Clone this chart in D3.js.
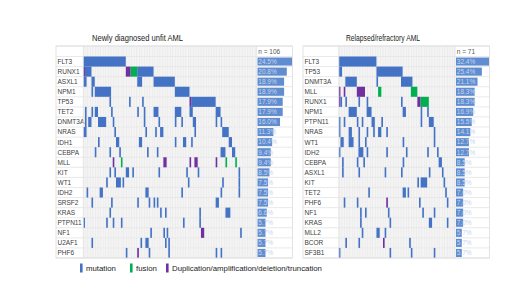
<!DOCTYPE html>
<html>
<head>
<meta charset="utf-8">
<script src="https://cdn.jsdelivr.net/npm/d3@7"></script>
<style>
  body { margin: 0; background: #fff; }
  svg { display: block; }
  text { font-family: "Liberation Sans", Arial, sans-serif; }
</style>
</head>
<body>
<svg width="520" height="292"></svg>
<script>
"use strict";

// newly diagnosed unfit AML (n = 106)
const newlyN = 106;
const newlyGenes = ["FLT3", "RUNX1", "ASXL1", "NPM1", "TP53", "TET2", "DNMT3A", "NRAS", "IDH1", "CEBPA",
  "MLL", "KIT", "WT1", "IDH2", "SRSF2", "KRAS", "PTPN11", "NF1", "U2AF1", "PHF6"];
const newlyPct = [24.5, 20.8, 18.9, 18.9, 17.9, 17.9, 16.0, 11.3, 10.4, 9.4,
  9.4, 8.5, 7.5, 7.5, 7.5, 6.6, 5.7, 5.7, 5.7, 5.7];
// m = mutation, f = fusion, d = duplication/amplification/deletion/truncation ; column ranges
const newlyMarks = [
  "m0-25",
  "d0 m1-4 d26-28 f29-32 m33-42",
  "m0-1 m5-6 m33-35 m43-55",
  "m5 m7-16 m56-64",
  "m16 m28 m36 d65 m66-80",
  "m1 m5 m7-8 m17 m33 m37 m43-45 m56-59 m65-66 m81-83",
  "m1 m3-4 m9-13 m18 m37 m46 m56 m60 m67-68 m81 m84",
  "m0-1 m19 m38 m44 m47-48 m68 m85-88",
  "m9 m20-21 m34-35 m56 m61-62 m66 m89-90",
  "m7 m16 m22 m39 m45 m84-86 m91-92",
  "d18 f23 d49-50 d65 d68-69 d81 f87 f93",
  "m16 m19 m26-27 m30 m46 m63 m70 m95",
  "m14 m20-22 m24 m64 m85 m95",
  "m2 m10-11 m38-39 m60 m84 m95",
  "m5 m17 m33 m40 m43 m45 m81-82",
  "m16 m47 m50 m71 m87-89",
  "m0 m14 m18 m23 m61 m71",
  "m41 m49 m51 d72-73 m96",
  "m5 m35 m38-39 m50 m52",
  "m26 d33 m40 m52 m81 m84"
];

// relapsed/refractory AML (n = 71)
const relapsedN = 71;
const relapsedGenes = ["FLT3", "TP53", "DNMT3A", "MLL", "RUNX1", "NPM1", "PTPN11", "NRAS", "WT1", "IDH2",
  "CEBPA", "ASXL1", "KIT", "TET2", "PHF6", "NF1", "KRAS", "MLL2", "BCOR", "SF3B1"];
const relapsedPct = [32.4, 25.4, 21.1, 18.3, 18.3, 16.9, 15.5, 14.1, 12.7, 12.7,
  8.5, 8.5, 8.5, 7.0, 7.0, 7.0, 7.0, 5.7, 5.7, 5.7];
const relapsedMarks = [
  "m0-22",
  "m0-1 m23-38",
  "m4-10 m23 m38-44",
  "d0 d3 d11-15 f24-25 f44-47",
  "d0 m1 m4 m12 m17 m38 d48-49 f50-54",
  "m6-10 m17-19 m39-40 m50 m54",
  "m0 m3 m11 m14 m20-21 m26 m50 m55-57",
  "m0 m6-7 m12 m17 m21 m24-25 m29 m58",
  "m1-2 m6-8 m12 m16 m39 m58",
  "m0 m12-14 m17 m29 m41 m54 m60",
  "m2 m11 m15 m39 m61-62",
  "m2 m12 m28 m38 m55 m63",
  "m48 m50-53 m64",
  "m18 m39-40 m42 m65",
  "m3 m11 d29 m49 m66",
  "m13 m16 m30 m51 m58",
  "m13 m31 m55-56 m66",
  "m14 m23-24 m28",
  "m4 m12 d27 m43",
  "m0 m31 m44 m58"
];

const legendKeys = ["m", "f", "d"];
const legendLabels = ["mutation", "fusion", "Duplication/amplification/deletion/truncation"];
const typeColor = d3.scaleOrdinal().domain(legendKeys).range(["#4472c4", "#00b050", "#7030a0"]);

// "m0-25" -> {type, start, end}
function parseMarks(s) {
  return s.split(" ").map((tok) => {
    const [a, b] = tok.slice(1).split("-").map(Number);
    return { type: tok[0], start: a, end: b === undefined ? a : b };
  });
}

const svg = d3.select("svg");
const headTop = 46, rowTop = 56.5, rowBottom = 258;

const panels = [
  { title: "Newly diagnosed unfit AML", n: newlyN, genes: newlyGenes, pct: newlyPct, marks: newlyMarks,
    left: 56, gridL: 83.3, gridR: 256.5, right: 292.5, titleX: 137.5, titleW: 91 },
  { title: "Relapsed/refractory AML", n: relapsedN, genes: relapsedGenes, pct: relapsedPct, marks: relapsedMarks,
    left: 303, gridL: 338.8, gridR: 455, right: 489.5, titleX: 383, titleW: 74 }
];

panels.forEach((p) => {
  const g = svg.append("g");
  const y = d3.scaleBand().domain(p.genes).range([rowTop, rowBottom]);
  const x = d3.scaleLinear().domain([0, p.n]).range([p.gridL, p.gridR]);
  const colW = x(1) - x(0);
  const bar = d3.scaleLinear().domain([0, d3.max(p.pct)]).range([0, p.right - p.gridR - 1.5]);

  g.append("text")
    .attr("x", p.titleX).attr("y", 41)
    .attr("text-anchor", "middle")
    .attr("font-size", 8.8)
    .attr("fill", "#222")
    .attr("textLength", p.titleW)
    .attr("lengthAdjust", "spacingAndGlyphs")
    .text(p.title);

  // grid cells (header row + gene rows)
  const rowsY = [headTop].concat(p.genes.map((d) => y(d)));
  const cells = [];
  rowsY.forEach((ry, i) => {
    const h = i === 0 ? rowTop - headTop : y.bandwidth();
    d3.range(p.n).forEach((c) => cells.push({ ry, h, c }));
  });
  g.append("g").selectAll("rect").data(cells).join("rect")
    .attr("x", (d) => x(d.c))
    .attr("y", (d) => d.ry)
    .attr("width", colW)
    .attr("height", (d) => d.h)
    .attr("fill", "#ededed")
    .attr("stroke", "#fafafa")
    .attr("stroke-width", 0.35);

  // row separators
  g.append("g").selectAll("line").data(rowsY.concat([rowBottom])).join("line")
    .attr("x1", p.left).attr("x2", p.right)
    .attr("y1", (d) => d).attr("y2", (d) => d)
    .attr("stroke", "#e3e3e3")
    .attr("stroke-width", 0.8);

  // mutation marks
  const runs = [];
  p.marks.forEach((s, i) => parseMarks(s).forEach((r) => runs.push({ gene: p.genes[i], ...r })));
  g.append("g").selectAll("rect").data(runs).join("rect")
    .attr("x", (d) => x(d.start))
    .attr("y", (d) => y(d.gene))
    .attr("width", (d) => x(d.end + 1) - x(d.start))
    .attr("height", y.bandwidth())
    .attr("fill", (d) => typeColor(d.type));

  // gene labels
  g.append("g").selectAll("text").data(p.genes).join("text")
    .attr("x", p.left + 1.5)
    .attr("y", (d) => y(d) + y.bandwidth() / 2 + 2.4)
    .attr("font-size", 6.5)
    .attr("fill", "#404040")
    .text((d) => d);

  // percentage bars
  g.append("g").selectAll("rect").data(p.pct).join("rect")
    .attr("x", p.gridR + 1)
    .attr("y", (d, i) => y(p.genes[i]) + 1)
    .attr("width", (d) => bar(d))
    .attr("height", y.bandwidth() - 2)
    .attr("fill", "#5f8dd0");

  g.append("g").selectAll("text").data(p.pct).join("text")
    .attr("x", p.gridR + 1.8)
    .attr("y", (d, i) => y(p.genes[i]) + y.bandwidth() / 2 + 2.3)
    .attr("font-size", 6.5)
    .attr("fill", "#c6d5ee")
    .text((d) => d3.format(".1f")(d) + "%");

  g.append("text")
    .attr("x", p.gridR + 1.8)
    .attr("y", headTop + 7.5)
    .attr("font-size", 6.5)
    .attr("fill", "#555")
    .text("n = " + p.n);

  // column dividers and outer frame
  [p.gridL, p.gridR].forEach((vx) => {
    g.append("line").attr("x1", vx).attr("x2", vx).attr("y1", headTop).attr("y2", rowBottom)
      .attr("stroke", "#e3e3e3").attr("stroke-width", 0.8);
  });
  g.append("rect")
    .attr("x", p.left).attr("y", headTop)
    .attr("width", p.right - p.left).attr("height", rowBottom - headTop)
    .attr("fill", "none").attr("stroke", "#dcdcdc").attr("stroke-width", 0.8);
});

// legend
const legendX = [80, 130, 166];
const lg = svg.append("g").selectAll("g").data(legendKeys).join("g")
  .attr("transform", (d, i) => `translate(${legendX[i]},268)`);
lg.append("rect").attr("x", 0).attr("y", -4.5).attr("width", 2.6).attr("height", 9)
  .attr("fill", (d) => typeColor(d));
lg.append("text").attr("x", 6).attr("y", 3)
  .attr("font-size", 7.8).attr("fill", "#222")
  .text((d, i) => legendLabels[i]);
</script>
</body>
</html>
